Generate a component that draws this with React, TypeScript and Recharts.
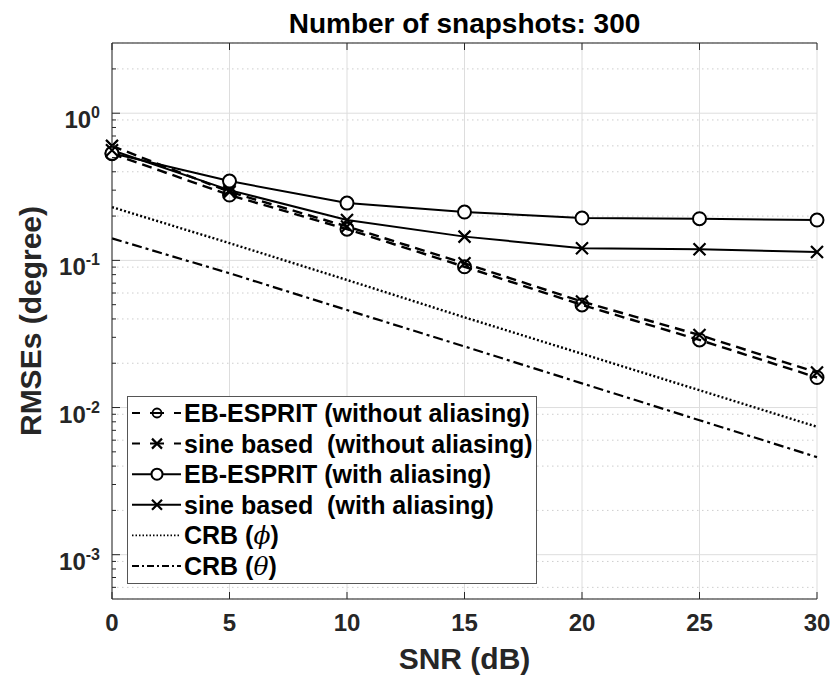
import React from "react";
import { LineChart, Line, XAxis, YAxis, CartesianGrid, Legend } from "recharts";

// SNR sweep (dB)
const snr = [0, 5, 10, 15, 20, 25, 30];

// RMSE values in degrees
const ebEspritNoAlias = [0.53, 0.278, 0.163, 0.0905, 0.0498, 0.0288, 0.016];
const sineNoAlias = [0.6, 0.292, 0.17, 0.0955, 0.0525, 0.0311, 0.0173];
const ebEspritAlias = [0.534, 0.346, 0.245, 0.213, 0.194, 0.192, 0.188];
const sineAlias = [0.56, 0.3, 0.188, 0.145, 0.121, 0.119, 0.114];
const crbPhi = [0.23, 0.131, 0.0736, 0.041, 0.0232, 0.0131, 0.0074];
const crbTheta = [0.141, 0.0817, 0.046, 0.026, 0.0146, 0.0082, 0.0046];

const legendOrder = ["ebEspritNoAlias", "sineNoAlias", "ebEspritAlias", "sineAlias", "crbPhi", "crbTheta"];

const xTicks = [0, 5, 10, 15, 20, 25, 30];
const yMajorTicks = [1e-3, 1e-2, 1e-1, 1];
const yDomain = [5e-4, 3];
const mantissas = [2, 3, 4, 5, 6, 7, 8, 9];
const decades = [1e-4, 1e-3, 1e-2, 1e-1, 1];
const yMinorTicks = decades
  .flatMap((d) => mantissas.map((m) => m * d))
  .filter((v) => v > yDomain[0] * 1.0001 && v < yDomain[1] * 0.9999);
const yAllTicks = [...yMajorTicks, ...yMinorTicks].sort((a, b) => a - b);

const data = snr.map((s, i) => ({
  snr: s,
  ebEspritNoAlias: ebEspritNoAlias[i],
  sineNoAlias: sineNoAlias[i],
  ebEspritAlias: ebEspritAlias[i],
  sineAlias: sineAlias[i],
  crbPhi: crbPhi[i],
  crbTheta: crbTheta[i],
}));

const FONT = '"Liberation Sans", Arial, Helvetica, sans-serif';
const AXIS = "#262626";

const isMajor = (v: number) => {
  const l = Math.log10(v);
  return Math.abs(l - Math.round(l)) < 1e-6;
};

function LeftTick({ x, y, payload }: any) {
  const v = payload.value;
  const major = isMajor(v);
  return (
    <g>
      <line x1={x} x2={x + (major ? 8 : 4)} y1={y} y2={y} stroke={AXIS} strokeWidth={1} />
      {major && (
        <text x={x - 12} y={y + 15} textAnchor="end" fill={AXIS} fontFamily={FONT} fontWeight={700} fontSize={24}>
          10
          <tspan fontSize={16} dy={-10}>
            {String(Math.round(Math.log10(v)))}
          </tspan>
        </text>
      )}
    </g>
  );
}

function RightTick({ x, y, payload }: any) {
  const major = isMajor(payload.value);
  return <line x1={x} x2={x - (major ? 8 : 4)} y1={y} y2={y} stroke={AXIS} strokeWidth={1} />;
}

function BottomTick({ x, y, payload }: any) {
  return (
    <g>
      <line x1={x} x2={x} y1={y} y2={y - 7} stroke={AXIS} strokeWidth={1} />
      <text x={x} y={y + 32} textAnchor="middle" fill={AXIS} fontFamily={FONT} fontWeight={700} fontSize={24}>
        {payload.value}
      </text>
    </g>
  );
}

function TopTick({ x, y }: any) {
  return <line x1={x} x2={x} y1={y} y2={y + 7} stroke={AXIS} strokeWidth={1} />;
}

const circleDot = (fill: string, r: number) => (props: any) => {
  const { cx, cy, index } = props;
  if (cx == null || cy == null) return <g key={index} />;
  return <circle key={index} cx={cx} cy={cy} r={r} fill={fill} stroke="#000" strokeWidth={2} />;
};

const crossDot = (s: number) => (props: any) => {
  const { cx, cy, index } = props;
  if (cx == null || cy == null) return <g key={index} />;
  return (
    <path
      key={index}
      d={`M${cx - s},${cy - s}L${cx + s},${cy + s}M${cx - s},${cy + s}L${cx + s},${cy - s}`}
      stroke="#000"
      strokeWidth={2.2}
      fill="none"
    />
  );
};

// legend sample styles, keyed by series
const legendLook: Record<string, { dash?: string; width: number; marker?: "circle" | "circleOpen" | "cross" }> = {
  ebEspritNoAlias: { dash: "8 10 14 10 8", width: 2, marker: "circleOpen" },
  sineNoAlias: { dash: "8 10 14 10 8", width: 2, marker: "cross" },
  ebEspritAlias: { width: 2, marker: "circle" },
  sineAlias: { width: 2, marker: "cross" },
  crbPhi: { dash: "1.5 2", width: 1.8 },
  crbTheta: { dash: "7 3 2 3", width: 2 },
};

function renderName(name: string) {
  const parts = name.split(/([ϕθ])/);
  return parts.map((p, i) =>
    p === "ϕ" || p === "θ" ? (
      <tspan key={i} fontFamily='"DejaVu Serif", serif' fontStyle="italic" fontWeight={400}>
        {p}
      </tspan>
    ) : (
      <tspan key={i}>{p}</tspan>
    )
  );
}

function LegendBox({ payload }: any) {
  const items = [...(payload || [])].sort(
    (a: any, b: any) => legendOrder.indexOf(a.dataKey) - legendOrder.indexOf(b.dataKey)
  );
  return (
    <div style={{ width: 410, height: 188, boxSizing: "border-box", border: "1px solid #555", background: "#fff" }}>
      <svg width={408} height={186} style={{ display: "block" }}>
        {items.map((p: any, i: number) => {
          const look = legendLook[p.dataKey] || { width: 2 };
          const cy = 16 + i * 30.6;
          const mx = 29;
          return (
            <g key={p.dataKey}>
              <line x1={4} x2={53} y1={cy} y2={cy} stroke="#000" strokeWidth={look.width} strokeDasharray={look.dash} />
              {look.marker === "circle" && <circle cx={mx} cy={cy} r={5.5} fill="#fff" stroke="#000" strokeWidth={2} />}
              {look.marker === "circleOpen" && <circle cx={mx} cy={cy} r={4.5} fill="none" stroke="#000" strokeWidth={1.8} />}
              {look.marker === "cross" && (
                <path
                  d={`M${mx - 5},${cy - 5}L${mx + 5},${cy + 5}M${mx - 5},${cy + 5}L${mx + 5},${cy - 5}`}
                  stroke="#000"
                  strokeWidth={2.2}
                />
              )}
              <text x={56} y={cy + 9} fontFamily={FONT} fontWeight={700} fontSize={25} fill="#000" style={{ whiteSpace: "pre" }}>
                {renderName(p.value)}
              </text>
            </g>
          );
        })}
      </svg>
    </div>
  );
}

export default function App() {
  return (
    <div style={{ position: "absolute", left: 0, top: 0, width: 835, height: 678, background: "#fff" }}>
      <LineChart width={835} height={678} data={data} margin={{ top: 42, right: 18, bottom: 0, left: 0 }}>
        <XAxis xAxisId="b" dataKey="snr" type="number" domain={[0, 30]} ticks={xTicks} interval={0} height={79}
          tick={BottomTick} tickLine={false} tickSize={0} tickMargin={0} axisLine={{ stroke: AXIS }}
          label={{ value: "SNR (dB)", position: "insideBottom", offset: 9, fontSize: 30, fontWeight: 700, fill: AXIS, fontFamily: FONT }} />
        <XAxis xAxisId="t" orientation="top" dataKey="snr" type="number" domain={[0, 30]} ticks={xTicks} interval={0} height={1}
          tick={TopTick} tickLine={false} tickSize={0} tickMargin={0} axisLine={{ stroke: AXIS }}
          label={{ value: "Number of snapshots: 300", position: "top", offset: 9, fontSize: 28, fontWeight: 700, fill: "#000", fontFamily: FONT }} />
        <YAxis yAxisId="L" type="number" scale="log" domain={yDomain} allowDataOverflow ticks={yAllTicks} interval={0} width={112}
          tick={LeftTick} tickLine={false} tickSize={0} tickMargin={0} axisLine={{ stroke: AXIS }}
          label={{ value: "RMSEs (degree)", angle: -90, position: "insideLeft", offset: 30, fontSize: 30, fontWeight: 700, fill: AXIS, fontFamily: FONT, style: { textAnchor: "middle" } }} />
        <YAxis yAxisId="R" orientation="right" type="number" scale="log" domain={yDomain} allowDataOverflow ticks={yAllTicks} interval={0} width={0}
          tick={RightTick} tickLine={false} tickSize={0} tickMargin={0} axisLine={{ stroke: AXIS }} />
        <YAxis yAxisId="gmaj" hide type="number" scale="log" domain={yDomain} allowDataOverflow ticks={yMajorTicks} />
        <YAxis yAxisId="gmin" hide type="number" scale="log" domain={yDomain} allowDataOverflow ticks={yMinorTicks} />
        <CartesianGrid xAxisId="b" yAxisId="gmin" vertical={false} stroke="#cdcdcd" strokeDasharray="1.5 3.5" />
        <CartesianGrid xAxisId="b" yAxisId="gmaj" stroke="#dddddd" />
        <Legend layout="vertical" align="center" verticalAlign="middle" content={LegendBox}
          wrapperStyle={{ left: 127, top: 396, bottom: "auto", width: 410, height: 188 }} />
        <Line xAxisId="b" yAxisId="L" dataKey="ebEspritNoAlias" name="EB-ESPRIT (without aliasing)" stroke="#000" strokeWidth={2.4}
          strokeDasharray="10 6" dot={circleDot("none", 6.5)} activeDot={false} isAnimationActive={false} />
        <Line xAxisId="b" yAxisId="L" dataKey="sineNoAlias" name="sine based  (without aliasing)" stroke="#000" strokeWidth={2.4}
          strokeDasharray="10 6" dot={crossDot(6)} activeDot={false} isAnimationActive={false} />
        <Line xAxisId="b" yAxisId="L" dataKey="ebEspritAlias" name="EB-ESPRIT (with aliasing)" stroke="#000" strokeWidth={2}
          dot={circleDot("#fff", 6.5)} activeDot={false} isAnimationActive={false} />
        <Line xAxisId="b" yAxisId="L" dataKey="sineAlias" name="sine based  (with aliasing)" stroke="#000" strokeWidth={2}
          dot={crossDot(6)} activeDot={false} isAnimationActive={false} />
        <Line xAxisId="b" yAxisId="L" dataKey="crbPhi" name="CRB (ϕ)" stroke="#000" strokeWidth={2.4}
          strokeDasharray="2 2.2" dot={false} activeDot={false} isAnimationActive={false} />
        <Line xAxisId="b" yAxisId="L" dataKey="crbTheta" name="CRB (θ)" stroke="#000" strokeWidth={2.2}
          strokeDasharray="10 4 3 4" dot={false} activeDot={false} isAnimationActive={false} />
      </LineChart>
    </div>
  );
}
